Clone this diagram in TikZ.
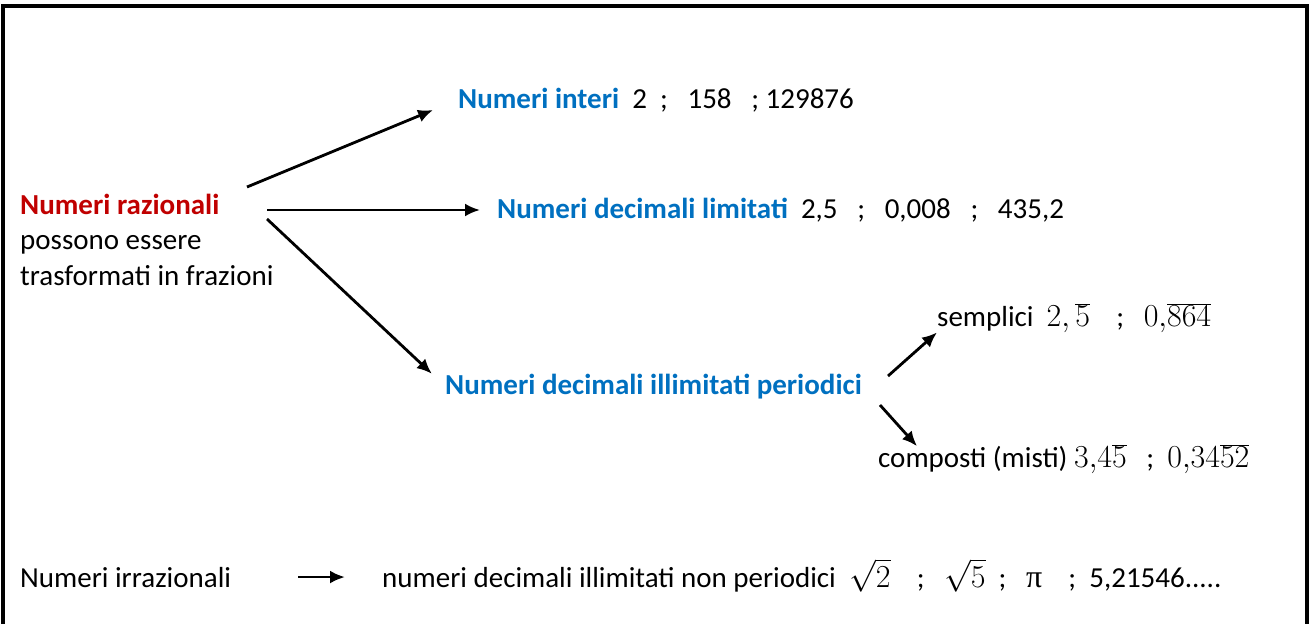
\RequirePackage{fix-cm}
\documentclass[tikz,border=0pt]{standalone}
\usepackage[no-math]{fontspec}
\setmainfont{Carlito}
\newfontfamily\grecofont{Liberation Serif}
\usetikzlibrary{arrows.meta}
\definecolor{blu}{HTML}{0070C0}
\definecolor{rosso}{HTML}{C00000}
\newcommand{\cifra}[1]{{\fontsize{32}{35}\selectfont$#1$}}
\begin{document}
\begin{tikzpicture}[x=1pt, y=-1pt, >={Latex[length=15pt,width=13pt]},
    freccia/.style={->, line width=2.8pt},
    testo/.style={anchor=base west, inner sep=0pt, font=\fontsize{29}{35.4}\selectfont}]
    \useasboundingbox (0,0) rectangle (1311,624);
    % 1. Cornice
    \draw[line width=4pt] (3,624) -- (3,6) -- (1307,6) -- (1307,624);

    % 2. Testi
    \node[testo, anchor=north west, align=left] (raz) at (20,194)
        {\textcolor{rosso}{\textbf{Numeri razionali}}\\ possono essere\\ trasformati in frazioni};
    \node[testo] (interi) at (458,108)
        {\textcolor{blu}{\textbf{Numeri interi}}\ \ 2\ \ ;\ \ \ 158\ \ \ ;\ 129876};
    \node[testo] (lim) at (497,218)
        {\textcolor{blu}{\textbf{Numeri decimali limitati}}\ \ 2,5\ \ \ ;\ \ \ 0,008\ \ \ ;\ \ \ 435,2};
    \node[testo] (per) at (445,394)
        {\textcolor{blu}{\textbf{Numeri decimali illimitati periodici}}};
    \node[testo] (semp) at (937,326)
        {semplici\ \ \cifra{2,\overline{5}}\ \ \ \ ;\ \ \ \cifra{0{,}\overline{864}}};
    \node[testo] (comp) at (878,467)
        {composti (misti) \cifra{3{,}4\overline{5}}\ \ \ ;\ \ \cifra{0{,}34\overline{52}}};
    \node[testo] (irr) at (20,587) {Numeri irrazionali};
    \node[testo] (nonper) at (382,587)
        {numeri decimali illimitati non periodici\ \ \cifra{\sqrt{2}}\ \ \ \ ;\ \ \ \cifra{\sqrt{5}}\ \ ;\ \ \ {\grecofont\fontsize{32}{35}\selectfont π}\ \ \ \ ;\ \ 5,21546.....};

    % 3. Frecce
    \coordinate (s1) at (247,187);
    \coordinate (s2) at (267,210);
    \coordinate (s3) at (267,219);
    \coordinate (s4) at (888,376);
    \coordinate (s5) at (880,405);
    \draw[freccia, shorten >=27pt] (s1) -- (interi.west);
    \draw[freccia, shorten >=17pt] (s2) -- (s2 -| lim.west);
    \draw[freccia, shorten >=18pt] (s3) -- (per.west);
    \draw[freccia] (s4) -- (semp.south west);
    \draw[freccia] (s5) -- ([xshift=39pt,yshift=-2pt]comp.north west);
    \draw[freccia, shorten <=67pt, shorten >=37pt] (irr.east) -- (irr.east -| nonper.west);
\end{tikzpicture}
\end{document}
